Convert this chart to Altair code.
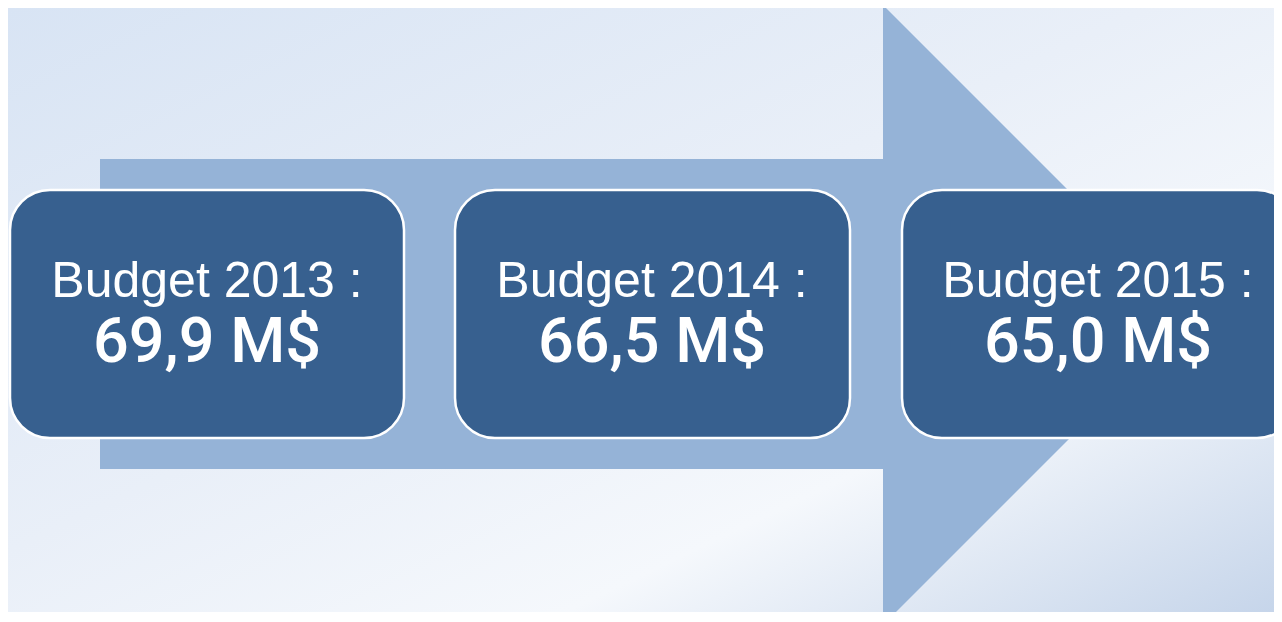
import altair as alt
import pandas as pd

# --- content ---
labels = ["Budget 2013 :", "Budget 2014 :", "Budget 2015 :"]
amounts = ["69,9 M$", "66,5 M$", "65,0 M$"]

# --- geometry (reference pixel space) ---
box_x0 = [10, 455, 902]
box_x1 = [404, 850, 1297]
box_y0 = [190, 190, 190]
box_y1 = [438, 438, 438]
text_cx = [207, 652, 1098]
line1_y = [297, 297, 297]
line2_y = [362, 362, 362]

shaft_x = [100, 884]
shaft_y = [159, 469]
head_x = [883, 1193]
head_top = [5, 315]
head_bot = [625, 315]

OX, OY = 8, 8
PW, PH = 1266, 604  # visible plot size so the page does not overflow

xs = alt.Scale(domain=[OX, OX + PW], nice=False, zero=False)
ys = alt.Scale(domain=[OY, OY + PH], nice=False, zero=False, reverse=True)

bg_df = pd.DataFrame({"x": [OX], "x2": [OX + PW], "y": [OY], "y2": [OY + PH]})
bg = alt.Chart(bg_df).mark_rect(
    fill=alt.Gradient(
        gradient="linear", x1=0, y1=0, x2=1, y2=1,
        stops=[
            alt.GradientStop(offset=0, color="#d8e4f4"),
            alt.GradientStop(offset=0.45, color="#e9eff8"),
            alt.GradientStop(offset=0.72, color="#f5f8fc"),
            alt.GradientStop(offset=1, color="#c6d5ea"),
        ],
    )
).encode(
    x=alt.X("x:Q", scale=xs, axis=None), x2="x2",
    y=alt.Y("y:Q", scale=ys, axis=None), y2="y2",
)

shaft_df = pd.DataFrame({"x": [shaft_x[0]], "x2": [shaft_x[1]], "y": [shaft_y[0]], "y2": [shaft_y[1]]})
shaft = alt.Chart(shaft_df).mark_rect(color="#95b3d7").encode(
    x=alt.X("x:Q", scale=xs, axis=None), x2="x2",
    y=alt.Y("y:Q", scale=ys, axis=None), y2="y2",
)

head_df = pd.DataFrame({"x": head_x, "y": head_top, "y2": head_bot})
head = alt.Chart(head_df).mark_area(color="#95b3d7", opacity=1, clip=True).encode(
    x=alt.X("x:Q", scale=xs, axis=None),
    y=alt.Y("y:Q", scale=ys, axis=None), y2="y2",
)

box_df = pd.DataFrame({"x": box_x0, "x2": box_x1, "y": box_y0, "y2": box_y1})
boxes = alt.Chart(box_df).mark_rect(
    color="#37608f", cornerRadius=40, stroke="white", strokeWidth=2.5, clip=True
).encode(
    x=alt.X("x:Q", scale=xs, axis=None), x2="x2",
    y=alt.Y("y:Q", scale=ys, axis=None), y2="y2",
)

t_df = pd.DataFrame({"x": text_cx, "y1": line1_y, "y2": line2_y, "l": labels, "a": amounts})
t1 = alt.Chart(t_df).mark_text(
    font="Liberation Sans", fontSize=50, color="white", align="center", baseline="alphabetic"
).encode(
    x=alt.X("x:Q", scale=xs, axis=None), y=alt.Y("y1:Q", scale=ys, axis=None), text="l:N"
)
t2 = alt.Chart(t_df).mark_text(
    font="Roboto", fontSize=63, fontWeight=500, color="white", align="center", baseline="alphabetic"
).encode(
    x=alt.X("x:Q", scale=xs, axis=None), y=alt.Y("y2:Q", scale=ys, axis=None), text="a:N"
)

chart = alt.layer(bg, shaft, head, boxes, t1, t2).properties(
    width=PW, height=PH, padding=0, autosize=alt.AutoSizeParams(type="none")
).configure_view(stroke=None).configure(background="#eef3f9")

chart.save("out.html", embed_options={"renderer": "svg", "actions": False})
